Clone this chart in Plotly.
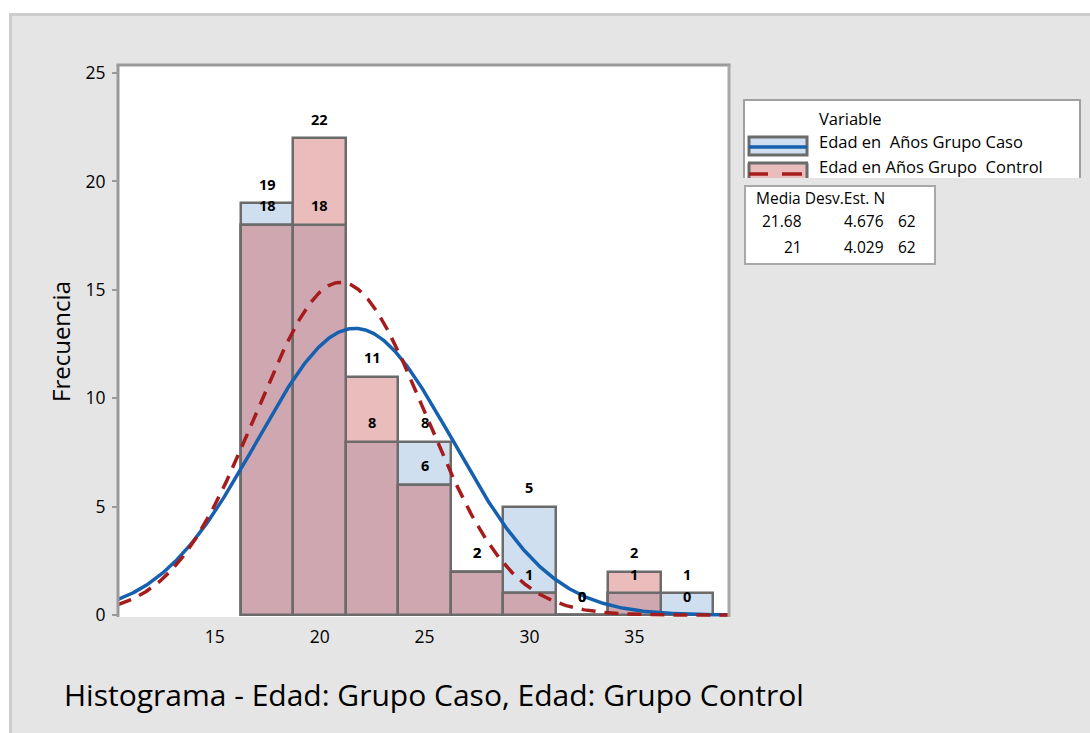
import numpy as np
import plotly.graph_objects as go

# Histogram bins (midpoints, width 2.5 years)
bin_centers = [17.5, 20, 22.5, 25, 27.5, 30, 32.5, 35, 37.5]
bin_width = 2.5

# Frequencies per group
caso = [19, 18, 8, 8, 2, 5, 0, 1, 1]
control = [18, 22, 11, 6, 2, 1, 0, 2, 0]

# Summary statistics used for the fitted normal curves
series_names = ["Edad en  Años Grupo Caso", "Edad en Años Grupo  Control"]
media = [21.68, 21]
desv_est = [4.676, 4.029]
n_obs = [62, 62]

x_ticks = [15, 20, 25, 30, 35]
y_ticks = [0, 5, 10, 15, 20, 25]

W, H = 1090, 733
PL, PR, PT, PB = 118, 729, 65, 617  # plot area in pixels


def px(x):
    return (x - PL) / (PR - PL)


def py(y):
    return (PB - y) / (PB - PT)


BLUE_FILL = "#cfdfef"
PINK_FILL = "#eabcbc"
MIX_FILL = "#cea7b1"
OUTLINE = "#6b6b6b"
BLUE_LINE = "#1660b0"
RED_LINE = "#a51c1c"
FONT = "Open Sans"

fig = go.Figure()

bar_line = dict(color=OUTLINE, width=2.5)
fig.add_trace(go.Bar(x=bin_centers, y=caso, width=bin_width,
                     marker=dict(color=BLUE_FILL, line=bar_line), hoverinfo="skip"))
fig.add_trace(go.Bar(x=bin_centers, y=control, width=bin_width,
                     marker=dict(color=PINK_FILL, line=bar_line), hoverinfo="skip"))
overlap = np.minimum(caso, control)
fig.add_trace(go.Bar(x=bin_centers, y=overlap, width=bin_width,
                     marker=dict(color=MIX_FILL, line=bar_line), hoverinfo="skip"))

# Fitted normal curves scaled to counts
xs = np.linspace(10.39, 39.51, 500)
styles = [dict(color=BLUE_LINE, width=3.5),
          dict(color=RED_LINE, width=3.5, dash="14px,9px")]
for mu, sd, n, st in zip(media, desv_est, n_obs, styles):
    ys = n * bin_width * np.exp(-0.5 * ((xs - mu) / sd) ** 2) / (sd * np.sqrt(2 * np.pi))
    fig.add_trace(go.Scatter(x=xs, y=ys, mode="lines", line=st, hoverinfo="skip"))

annotations = []
# Count labels above each bar
for vals in (caso, control):
    for xc, v in zip(bin_centers, vals):
        annotations.append(dict(x=xc, y=v, xref="x", yref="y", text=str(v),
                                showarrow=False, yshift=19,
                                font=dict(family=FONT, size=14.5, color="#000", weight=700)))

shapes = []
# Outer frame
shapes.append(dict(type="rect", xref="paper", yref="paper", x0=px(0), x1=px(W), y0=py(13), y1=py(0),
                   fillcolor="white", line=dict(width=0), layer="below"))
shapes.append(dict(type="rect", xref="paper", yref="paper", x0=px(0), x1=px(9), y0=py(H), y1=py(0),
                   fillcolor="white", line=dict(width=0), layer="below"))
shapes.append(dict(type="line", xref="paper", yref="paper", x0=px(9), x1=px(W), y0=py(14.5), y1=py(14.5),
                   line=dict(color="#cdcdcd", width=3), layer="below"))
shapes.append(dict(type="line", xref="paper", yref="paper", x0=px(10.5), x1=px(10.5), y0=py(13), y1=py(H),
                   line=dict(color="#cdcdcd", width=3), layer="below"))

# Plot area border (top, left, right)
shapes.append(dict(type="line", xref="paper", yref="paper", x0=px(PL - 1.5), x1=px(PR + 1.5), y0=1, y1=1,
                   line=dict(color="#9a9a9a", width=3)))
shapes.append(dict(type="line", xref="paper", yref="paper", x0=0, x1=0, y0=0, y1=1,
                   line=dict(color="#9a9a9a", width=3)))
shapes.append(dict(type="line", xref="paper", yref="paper", x0=1, x1=1, y0=0, y1=1,
                   line=dict(color="#a8a8a8", width=3)))

# Legend box
shapes.append(dict(type="rect", xref="paper", yref="paper", x0=px(744), x1=px(1080), y0=py(178), y1=py(100),
                   fillcolor="white", line=dict(width=0)))
for x0, y0, x1, y1 in [(743, 100, 1081, 100), (744, 99, 744, 178), (1080, 99, 1080, 178)]:
    shapes.append(dict(type="line", xref="paper", yref="paper", x0=px(x0), x1=px(x1), y0=py(y0), y1=py(y1),
                       line=dict(color="#a0a0a0", width=2)))
# Legend swatches
shapes.append(dict(type="rect", xref="paper", yref="paper", x0=px(749), x1=px(807), y0=py(155), y1=py(137),
                   fillcolor=BLUE_FILL, line=dict(color=OUTLINE, width=3)))
shapes.append(dict(type="line", xref="paper", yref="paper", x0=px(749), x1=px(807), y0=py(147), y1=py(147),
                   line=dict(color=BLUE_LINE, width=3.5)))
shapes.append(dict(type="rect", xref="paper", yref="paper", x0=px(749), x1=px(807), y0=py(178), y1=py(163),
                   fillcolor=PINK_FILL, line=dict(width=0)))
for x0, y0, x1, y1 in [(748, 163, 808, 163), (749, 163, 749, 178), (807, 163, 807, 178)]:
    shapes.append(dict(type="line", xref="paper", yref="paper", x0=px(x0), x1=px(x1), y0=py(y0), y1=py(y1),
                       line=dict(color=OUTLINE, width=3)))
for x0, x1 in [(749, 768), (782, 802)]:
    shapes.append(dict(type="line", xref="paper", yref="paper", x0=px(x0), x1=px(x1), y0=py(174), y1=py(174),
                       line=dict(color=RED_LINE, width=3.5)))

# Statistics table box
shapes.append(dict(type="rect", xref="paper", yref="paper", x0=px(745), x1=px(935), y0=py(264), y1=py(186),
                   fillcolor="white", line=dict(color="#a8a8a8", width=2)))

legend_font = dict(family=FONT, size=16.5, color="#000")
annotations.append(dict(x=px(817), y=py(118), xref="paper", yref="paper", text="Variable",
                        showarrow=False, xanchor="left", yanchor="middle", font=legend_font))
for name, yy in zip(series_names, [142, 166]):
    annotations.append(dict(x=px(817), y=py(yy), xref="paper", yref="paper",
                            text=name.replace("  ", "&nbsp; "),
                            showarrow=False, xanchor="left", yanchor="middle", font=legend_font))

table_font = dict(family=FONT, size=15.5, color="#000")
annotations.append(dict(x=px(754), y=py(198), xref="paper", yref="paper", text="Media Desv.Est. N",
                        showarrow=False, xanchor="left", yanchor="middle", font=table_font))
for m, s, n, yy in zip(media, desv_est, n_obs, [221, 247]):
    for val, xr in [(f"{m:g}", 804), (f"{s:.3f}", 886), (str(n), 918)]:
        annotations.append(dict(x=px(xr), y=py(yy), xref="paper", yref="paper", text=val,
                                showarrow=False, xanchor="right", yanchor="middle", font=table_font))

# Axis title and chart title
annotations.append(dict(x=px(60), y=py(342), xref="paper", yref="paper", text="Frecuencia",
                        showarrow=False, textangle=-90, xanchor="center", yanchor="middle",
                        font=dict(family=FONT, size=24, color="#000")))
annotations.append(dict(x=px(62), y=py(694), xref="paper", yref="paper",
                        text="Histograma - Edad: Grupo Caso, Edad: Grupo Control",
                        showarrow=False, xanchor="left", yanchor="middle",
                        font=dict(family=FONT, size=30, color="#000", weight=500)))

fig.update_layout(
    width=W, height=H,
    margin=dict(l=PL, r=W - PR, t=PT, b=H - PB, pad=0),
    paper_bgcolor="#e5e5e5",
    plot_bgcolor="white",
    barmode="overlay",
    bargap=0,
    showlegend=False,
    shapes=shapes,
    annotations=annotations,
    xaxis=dict(range=[10.39, 39.51], tickvals=x_ticks, ticks="", showgrid=False, zeroline=False,
               showline=False, ticklabelstandoff=7,
               tickfont=dict(family=FONT, size=17.5, color="#000", weight=500)),
    yaxis=dict(range=[-0.09, 25.37], tickvals=y_ticks, ticks="outside", ticklen=5, tickwidth=2,
               tickcolor="#9a9a9a", showgrid=False, zeroline=False, showline=False,
               ticklabelstandoff=3,
               tickfont=dict(family=FONT, size=17.5, color="#000", weight=500)),
)

fig.write_html("out.html")
